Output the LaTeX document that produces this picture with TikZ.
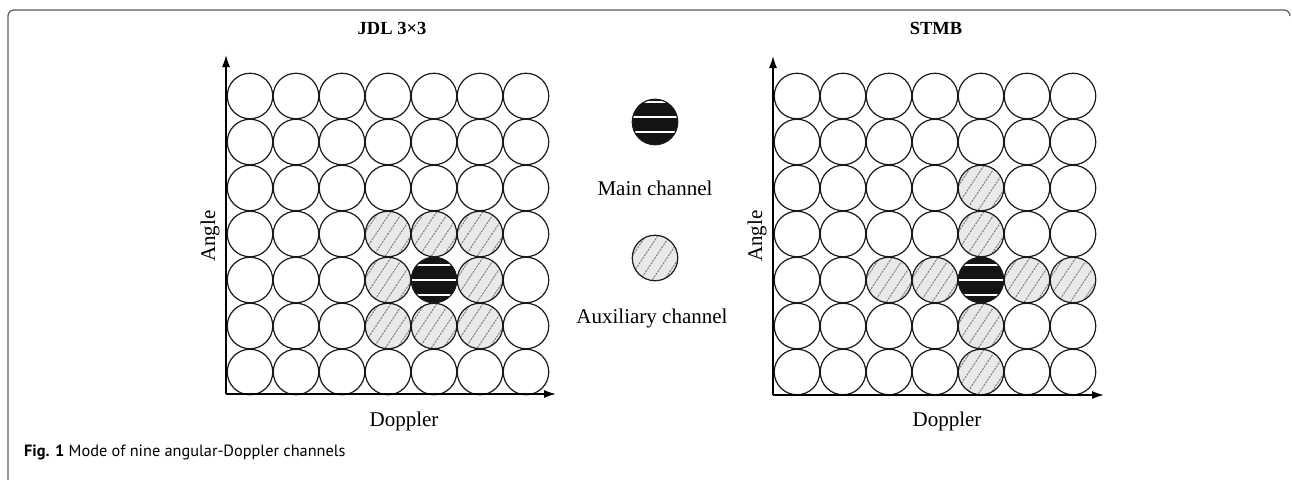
\documentclass[tikz,border=0pt]{standalone}
\usepackage{fontspec}
\setmainfont{Liberation Serif}
\newfontfamily\capfont{PT Sans}
\usetikzlibrary{arrows.meta}
\definecolor{hatchfill}{HTML}{E9E9E9}
\definecolor{hatchline}{HTML}{7A7A7A}
\definecolor{framegray}{HTML}{5A5A5A}
\tikzset{
  cell/.style={circle, draw=black!90, line width=1.2pt, minimum size=45.5pt, inner sep=0pt},
  aux/.style={cell, fill=hatchfill, path picture={
      \begin{scope}[shift={(path picture bounding box.center)}]
      \foreach \k in {-5,...,5}
        \draw[hatchline, line width=0.9pt, dash pattern=on 2.2pt off 1pt] (\k*12-20,30) -- (\k*12+20,-30);
      \end{scope}}},
  mainch/.style={cell, fill=black!92, path picture={
      \begin{scope}[shift={(path picture bounding box.center)}]
      \foreach \k in {-15,0,15}
        \draw[white, line width=1.4pt] (-30,\k) -- (30,\k);
      \end{scope}}},
  mainleg/.style={cell, fill=black!92, path picture={
      \begin{scope}[shift={(path picture bounding box.center)}]
      \foreach \k in {-20,-5,10}
        \draw[white, line width=1.4pt] (-30,\k) -- (30,\k);
      \end{scope}}},
  axis/.style={line width=1.5pt, -{Latex[length=12pt,width=8pt]}},
  lbl/.style={font=\fontsize{21}{25}\selectfont, inner sep=0pt},
  ttl/.style={font=\fontsize{18.5}{22}\selectfont\bfseries, inner sep=0pt},
}
\begin{document}
\begin{tikzpicture}[x=1pt,y=-1pt]
\useasboundingbox (0,0) rectangle (1292,479);
% frame
\draw[framegray, line width=1.2pt, rounded corners=6pt] (8,490) -- (8,10) -- (1290,10) -- (1290,16);
% left grid
\foreach \i in {0,...,6} \foreach \j in {0,...,6} {
  \def\st{cell}
  \ifnum\i>2 \ifnum\i<6 \ifnum\j>2 \ifnum\j<6 \def\st{aux}\fi\fi\fi\fi
  \ifnum\i=4 \ifnum\j=4 \def\st{mainch}\fi\fi
  \node[\st] (L\i\j) at (250+46*\i, 96+46*\j) {};
}
% right grid
\foreach \i in {0,...,6} \foreach \j in {0,...,6} {
  \def\st{cell}
  \ifnum\i=4 \ifnum\j>1 \def\st{aux}\fi\fi
  \ifnum\j=4 \ifnum\i>1 \def\st{aux}\fi\fi
  \ifnum\i=4 \ifnum\j=4 \def\st{mainch}\fi\fi
  \node[\st] (R\i\j) at (797+46*\i, 96+46*\j) {};
}
% axes
\coordinate (LO) at (226,394);
\coordinate (LY) at (226,55);
\coordinate (LX) at (556,394);
\draw[axis] (LO) -- (LY);
\draw[axis] (LO) -- (LX);
\coordinate (RO) at (773,395);
\coordinate (RY) at (773,56);
\coordinate (RX) at (1104,395);
\draw[axis] (RO) -- (RY);
\draw[axis] (RO) -- (RX);
% titles and labels
\node[ttl] (Lt) at (392,28) {JDL 3×3};
\node[ttl] (Rt) at (936,28) {STMB};
\node[lbl] (Ld) at (404,421) {Doppler};
\node[lbl] (Rd) at (947,421) {Doppler};
\node[lbl, rotate=90] (La) at (210,236) {Angle};
\node[lbl, rotate=90] (Ra) at (757,236) {Angle};
% legend
\node[mainleg] (M) at (655,122) {};
\node[lbl] (Mt) at (655,188) {Main channel};
\node[aux] (A) at (655,258) {};
\node[lbl] (At) at (652,318) {Auxiliary channel};
% caption
\node[anchor=base west, inner sep=0pt, font=\capfont\fontsize{16.3}{19}\selectfont] (cap) at (24,456) {\textbf{Fig. 1} Mode of nine angular-Doppler channels};
\end{tikzpicture}
\end{document}
